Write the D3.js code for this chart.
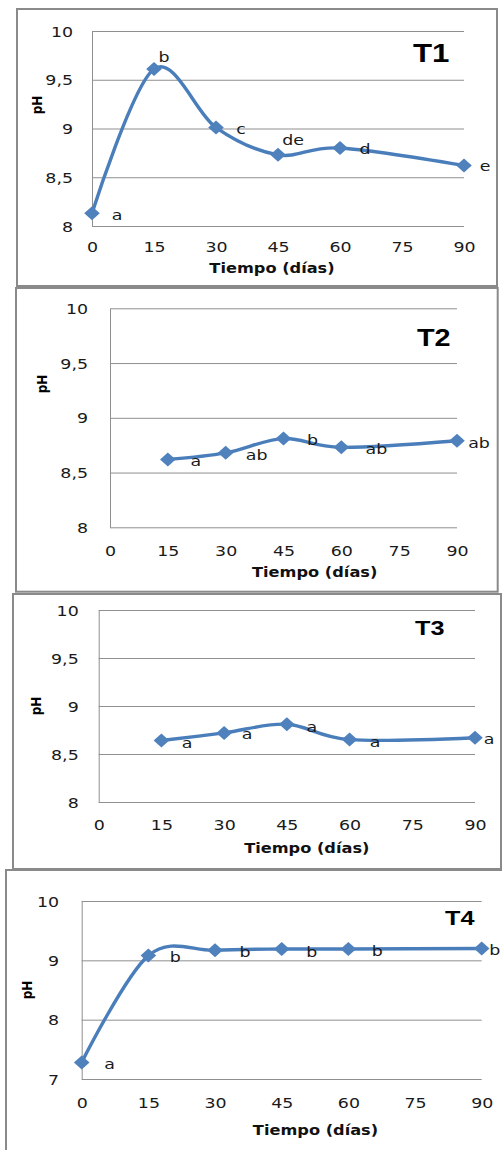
<!DOCTYPE html>
<html><head><meta charset="utf-8">
<script src="https://cdn.jsdelivr.net/npm/d3@7"></script>
<style>
body{margin:0;background:#fff}
svg{display:block}
.sx{transform-box:fill-box;transform-origin:center;transform:scaleX(1.2)}
.sxr{transform-box:fill-box;transform-origin:right center;transform:scaleX(1.2)}
</style></head><body><svg id="c" width="502" height="1150"></svg>
<script>
// ---- data ----
const days1 = [0, 15, 30, 45, 60, 90];
const ph1   = [8.13, 9.61, 9.01, 8.73, 8.80, 8.62];
const sig1  = ["a", "b", "c", "de", "d", "e"];

const days2 = [15, 30, 45, 60, 90];
const ph2   = [8.62, 8.68, 8.81, 8.73, 8.79];
const sig2  = ["a", "ab", "b", "ab", "ab"];

const days3 = [15, 30, 45, 60, 90];
const ph3   = [8.64, 8.72, 8.81, 8.65, 8.67];
const sig3  = ["a", "a", "a", "a", "a"];

const days4 = [0, 15, 30, 45, 60, 90];
const ph4   = [7.28, 9.08, 9.17, 9.19, 9.19, 9.20];
const sig4  = ["a", "b", "b", "b", "b", "b"];

const xTicks  = [0, 15, 30, 45, 60, 75, 90];
const yTicksA = [8, 8.5, 9, 9.5, 10];
const yTicksB = [7, 8, 9, 10];
const panelNames = ["T1", "T2", "T3", "T4"];
const xTitle = "Tiempo (días)";
const yTitle = "pH";

// ---- layout ----
const layout = [
  {days:days1, vals:ph1, sig:sig1, yTicks:yTicksA, yDom:[8,10],
   frame:[17,9,480,277], plot:[92,464,31,226], xLabY:247, yLabGap:19,
   title:[272,268], ph:[37,105], tag:[413,53,26],
   ldx:[25,10,25,15,25,21], ldy:[2,-12,1,-15,1,0]},
  {days:days2, vals:ph2, sig:sig2, yTicks:yTicksA, yDom:[8,10],
   frame:[16,288,481.7,303.7], plot:[110,457,308.3,527.3], xLabY:551, yLabGap:22,
   title:[314.7,572], ph:[42,384], tag:[417,338,24],
   ldx:[28,31,29,35,22], ldy:[2,2,1,2,2]},
  {days:days3, vals:ph3, sig:sig3, yTicks:yTicksA, yDom:[8,10],
   frame:[13,594,488,275], plot:[98.7,475,610,802], xLabY:825, yLabGap:20,
   title:[306.8,848], ph:[36,706], tag:[415,628,21],
   ldx:[25.6,23,25,25.4,14], ldy:[2,1,2.5,2,1.6]},
  {days:days4, vals:ph4, sig:sig4, yTicks:yTicksB, yDom:[7,10],
   frame:[6,870,500,290], plot:[81.7,481.7,901,1079], xLabY:1102.7, yLabGap:22.6,
   title:[315.5,1130.7], ph:[26.5,990], tag:[445,917.7,21],
   ldx:[28,27,30,30,29,13], ldy:[2,1,1.4,2.6,2,1.5]}
];

const LINE = "#4A7EBB", MARK = "#4F81BD", GRID = "#8f8f8f", FRAME = "#8a8a8a";
const fmt = d => String(d).replace(".", ",");
const svg = d3.select("#c");
svg.append("rect").attr("width",502).attr("height",1150).attr("fill","#fff");

layout.forEach((L, i) => {
  const g = svg.append("g");
  const [fx, fy, fw, fh] = L.frame;
  g.append("rect").attr("x",fx).attr("y",fy).attr("width",fw).attr("height",fh)
    .attr("fill","none").attr("stroke",FRAME).attr("stroke-width",2);

  const [pl, pr, pt, pb] = L.plot;
  const x = d3.scaleLinear().domain([0,90]).range([pl, pr]);
  const y = d3.scaleLinear().domain(L.yDom).range([pb, pt]);

  // y axis with gridlines
  const ya = g.append("g").attr("transform",`translate(${pl},0)`)
    .call(d3.axisLeft(y).tickValues(L.yTicks).tickFormat(fmt)
      .tickSize(-(pr-pl)).tickSizeOuter(0).tickPadding(L.yLabGap));
  ya.select(".domain").attr("stroke",GRID).attr("stroke-width",1);
  ya.selectAll(".tick line").attr("stroke",GRID).attr("stroke-width",1);
  ya.selectAll(".tick text").attr("class","sxr")
    .attr("font-family","DejaVu Sans").attr("font-size",14.5).attr("fill","#1a1a1a")
    .attr("dy","0.35em");

  // x axis labels
  const xa = g.append("g").attr("transform",`translate(0,${L.xLabY})`)
    .call(d3.axisBottom(x).tickValues(xTicks).tickSize(0).tickPadding(0));
  xa.select(".domain").remove();
  xa.selectAll(".tick text").attr("class","sx")
    .attr("y",0).attr("dy","0.35em")
    .attr("font-family","DejaVu Sans").attr("font-size",14.5).attr("fill","#1a1a1a");

  // titles
  g.append("text").attr("class","sx")
    .attr("x",L.title[0]).attr("y",L.title[1]).attr("dy","0.35em")
    .attr("text-anchor","middle").attr("font-family","DejaVu Sans")
    .attr("font-weight","bold").attr("font-size",13.5).attr("fill","#111")
    .text(xTitle);
  g.append("text")
    .attr("transform",`translate(${L.ph[0]},${L.ph[1]}) scale(1.2,1) rotate(-90)`)
    .attr("dy","0.35em").attr("text-anchor","middle")
    .attr("font-family","DejaVu Sans").attr("font-weight","bold")
    .attr("font-size",12).attr("fill","#000").text(yTitle);
  g.append("text")
    .attr("transform",`translate(${L.tag[0]},${L.tag[1]}) scale(1.2,1)`)
    .attr("dy","0.35em").attr("font-family","Liberation Sans")
    .attr("font-weight","bold").attr("font-size",L.tag[2]).attr("fill","#000")
    .text(panelNames[i]);

  // line
  const pts = L.days.map((d, k) => [d, L.vals[k]]);
  g.append("path").datum(pts)
    .attr("d", d3.line().x(d => x(d[0])).y(d => y(d[1])).curve(d3.curveCatmullRom.alpha(0)))
    .attr("fill","none").attr("stroke",LINE).attr("stroke-width",3.4)
    .attr("stroke-linejoin","round");

  // markers
  const diamond = "M0,-7L7.8,0L0,7L-7.8,0Z";
  g.selectAll("path.mk").data(pts).join("path").attr("class","mk")
    .attr("d",diamond).attr("transform",d => `translate(${x(d[0])},${y(d[1])})`)
    .attr("fill",MARK);

  // significance letters
  g.selectAll("text.sig").data(pts).join("text").attr("class","sig sx")
    .attr("x",(d,k) => x(d[0]) + L.ldx[k]).attr("y",(d,k) => y(d[1]) + L.ldy[k])
    .attr("dy","0.35em").attr("text-anchor","middle")
    .attr("font-family","DejaVu Sans").attr("font-size",14.5).attr("fill","#1a1a1a")
    .text((d,k) => L.sig[k]);
});
</script></body></html>
